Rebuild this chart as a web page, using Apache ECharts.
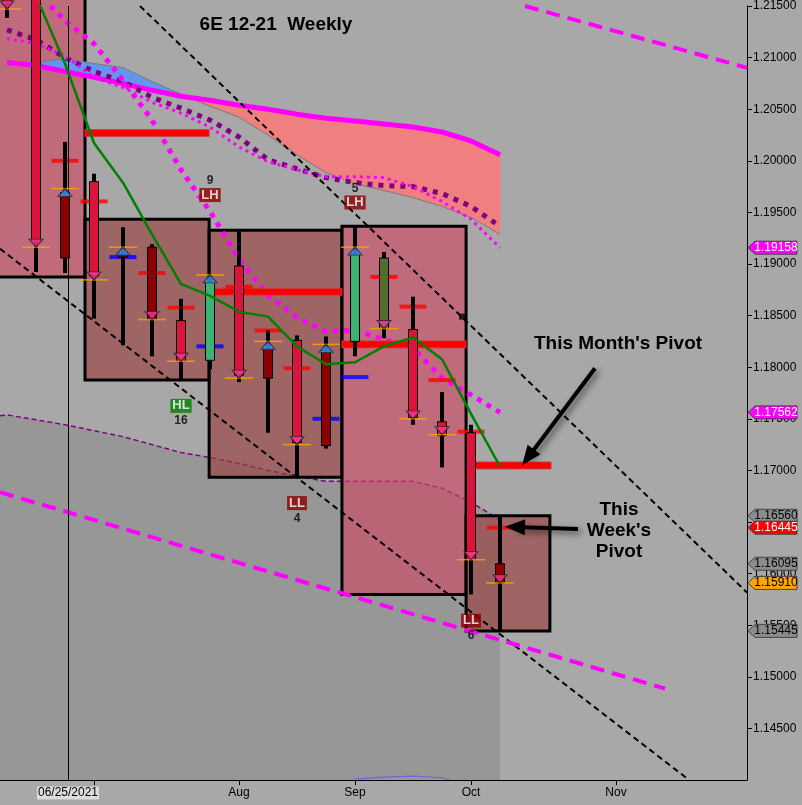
<!DOCTYPE html>
<html>
<head>
<meta charset="utf-8">
<script src="https://cdn.jsdelivr.net/npm/echarts@6.0.0/dist/echarts.min.js"></script>
<style>
html,body{margin:0;padding:0;background:#A8A8A8;}
#chart{width:802px;height:805px;}
</style>
</head>
<body>
<div id="chart"></div>
<script>
// ================= DATA =================
const weekIdx     = [0,1,2,3,4,5,6,7,8,9,10,11,12,13,14,15,16,17];
const candleOpen  = [1.22300,1.22300,1.19692,1.19798,1.19106,1.19163,1.18452,1.18067,1.18981,1.18183,1.18260,1.18163,1.18250,1.19058,1.18365,1.17471,1.17365,1.16095];
const candleHigh  = [1.22500,1.22500,1.20183,1.19875,1.19356,1.19192,1.18663,1.18894,1.19317,1.18356,1.18308,1.18298,1.19365,1.19115,1.18683,1.17760,1.17442,1.16560];
const candleLow   = [1.21385,1.18923,1.18913,1.18471,1.18212,1.18106,1.17865,1.17981,1.17856,1.17365,1.16942,1.17212,1.18106,1.18280,1.17442,1.17029,1.15798,1.15445];
const candleClose = [1.21519,1.19221,1.19058,1.18885,1.19067,1.18462,1.18058,1.18827,1.17923,1.17894,1.17270,1.17240,1.19096,1.18375,1.17510,1.17337,1.16135,1.15910];
const candleKind  = ['bear','bear','bearWeak','bear','bearWeak','bearWeak','bear','bull','bear','bearWeak','bear','bearWeak','bull','bullWeak','bear','bear','bear','bearWeak'];

const signalLevel = [1.21471,1.19163,1.19731,1.18846,1.19163,1.18462,1.18058,1.18894,1.17894,1.18250,1.17250,1.18221,1.19163,1.18375,1.17500,1.17346,1.16135,1.15910];
const signalDir   = ['dn','dn','up','dn','up','dn','dn','up','dn','up','dn','up','up','dn','dn','dn','dn','dn'];

const pivotWeek  = [2,3,4,5,6,7,8,9,10,11,12,13,14,15,16,17];
const pivotValue = [1.20000,1.19606,1.19067,1.18913,1.18577,1.18202,1.18779,1.18356,1.17990,1.17500,1.17904,1.18875,1.18587,1.17875,1.17375,1.16445];
const pivotType  = ['res','res','sup','res','res','sup','res','res','res','sup','sup','res','res','res','res','res'];

const monthStart = [-1.00, 2.69, 6.97, 11.55, 15.83];
const monthEnd   = [ 2.69, 6.97, 11.55, 15.83, 18.72];
const monthHigh  = [1.23000,1.19433,1.19327,1.19365,1.16560];
const monthLow   = [1.18875,1.17875,1.16933,1.15798,1.15445];
const monthTone  = ['light','dark','dark','light','dark'];

const mPivotStart = [2.69, 6.97, 11.55, 16.14];
const mPivotEnd   = [6.97, 11.55, 15.83, 18.76];
const mPivotValue = [1.20269,1.18731,1.18221,1.17048];

const maLine      = [null,1.21596,1.20942,1.20173,1.19788,1.19288,1.18808,1.18692,1.18538,1.18490,1.18202,1.18029,1.18048,1.18202,1.18288,1.18077,1.17548,1.17038];
const bandMid     = [1.20952,1.20923,1.20865,1.20808,1.20750,1.20683,1.20625,1.20587,1.20538,1.20500,1.20452,1.20413,1.20385,1.20356,1.20327,1.20279,1.20192,1.20058];
const cloudEdge   = [null,1.20950,1.20990,1.20942,1.20904,1.20769,1.20644,1.20529,1.20423,1.20250,1.20058,1.19885,1.19779,1.19712,1.19644,1.19558,1.19452,1.19288];
const purpleDot   = [1.21269,1.21173,1.21000,1.20865,1.20769,1.20615,1.20510,1.20394,1.20231,1.20010,1.19923,1.19837,1.19788,1.19760,1.19750,1.19683,1.19558,1.19365];
const magentaFine = [1.21183,1.21135,1.21019,1.20808,1.20712,1.20567,1.20462,1.20327,1.20135,1.19990,1.19913,1.19846,1.19846,1.19837,1.19750,1.19606,1.19433,1.19158];
const magentaBold = [1.21981,1.21644,1.21356,1.21135,1.20779,1.20394,1.19913,1.19510,1.19048,1.18692,1.18481,1.18346,1.18356,1.18269,1.18183,1.17894,1.17731,1.17562];
const lowerBand   = [1.17538,1.17490,1.17442,1.17385,1.17327,1.17250,1.17173,1.17125,1.17067,1.17000,1.16942,1.16894,1.16894,1.16894,1.16894,1.16827,1.16692,1.16519];
const lowerBandStart = [-0.2414, 1.17529];
const bottomCurve = [[12,1.14010],[13,1.14028],[14,1.14038],[15,1.14022],[15.3,1.14000]];

const trendBlackUpper   = [[4.586,1.21500],[25.517,1.15817]];
const trendBlackLower   = [[-0.2414,1.19148],[23.52,1.14000]];
const trendMagentaUpper = [[17.862,1.21500],[25.517,1.20901]];
const trendMagentaLower = [[-0.2414,1.16788],[22.69,1.14885]];
const anchorMark = [[15.69,1.18490]];

const swingIdx        = [7,12,6,10,16];
const swingType       = ['LH','LH','HL','LL','LL'];
const swingCount      = ['9','5','16','4','6'];
const swingBoxLevel   = [1.19668,1.19596,1.17625,1.16683,1.15544];
const swingCountLevel = [1.19808,1.19731,1.17481,1.16529,1.15394];

const tagValues = [1.19158,1.17562,1.16560,1.16445,1.16095,1.15910,1.15445];
const tagKind   = ['band','band','high','pivot','open','last','low'];

const xTickIdx   = [3,8,12,16,21];
const xLabelIdx  = [8,12,16,21];
const xLabelText = ['Aug','Sep','Oct','Nov'];
const cursorIdx  = 2.103;
const cursorText = '06/25/2021';

const monthArrow = [[20.276,1.17990],[17.966,1.17125]];
const weekArrow  = [[19.690,1.16433],[17.517,1.16452]];

const xMin = -0.2414, xMax = 25.517;

// ================= STYLE =================
const FONT = '"Liberation Sans", Arial, sans-serif';
const bodyFill = {bear:'#DC143C', bearWeak:'#8B0000', bull:'#3CB371', bullWeak:'#556B2F'};
const boxFill = {light:'rgba(205,73,99,0.65)', dark:'rgba(153,65,65,0.65)'};
const pivotFill = {res:'#FF0000', sup:'#0000FF'};
const tagStyle = {
  band:{fill:'#FF00FF', text:'#FFFFFF'}, pivot:{fill:'#FF0000', text:'#FFFFFF'},
  high:{fill:'#8C8C8C', text:'#000'}, open:{fill:'#8C8C8C', text:'#000'},
  low:{fill:'#8C8C8C', text:'#000'}, last:{fill:'#FFA500', text:'#000'}
};

const pairs = arr => weekIdx.map((w,i)=>[w,arr[i]]).filter(p=>p[1]!=null);

function candleItem(params, api){
  const x=api.value(0), o=api.value(1), c=api.value(2), l=api.value(3), h=api.value(4);
  const pH=api.coord([x,h]), pL=api.coord([x,l]), pO=api.coord([x,o]), pC=api.coord([x,c]);
  const cx=Math.round(pH[0]);
  const top=Math.min(pO[1],pC[1]), bot=Math.max(pO[1],pC[1]);
  return {type:'group', children:[
    {type:'rect', shape:{x:cx-2, y:pH[1], width:4, height:pL[1]-pH[1]}, style:{fill:'#000'}},
    {type:'rect', shape:{x:cx-4.5, y:top, width:9, height:Math.max(bot-top,2)},
     style:{fill:bodyFill[candleKind[params.dataIndex]], stroke:'#000', lineWidth:1}}
  ]};
}
function boxItem(params, api){
  const p0=api.coord([api.value(0), api.value(2)]), p1=api.coord([api.value(1), api.value(3)]);
  return {type:'rect', shape:{x:p0[0], y:p0[1], width:p1[0]-p0[0], height:p1[1]-p0[1]},
    style:{fill:boxFill[monthTone[params.dataIndex]], stroke:'#000', lineWidth:3}};
}
function mPivotItem(params, api){
  const p0=api.coord([api.value(0), api.value(2)]), p1=api.coord([api.value(1), api.value(2)]);
  return {type:'rect', shape:{x:p0[0], y:p0[1]-3.5, width:p1[0]-p0[0], height:7},
    style:{fill:'#FF0000', stroke:'rgba(190,70,70,0.9)', lineWidth:1}};
}
function cloudItem(params, api){
  const kids=[];
  const poly=(pts,up)=>({type:'polygon', shape:{points:pts.map(p=>api.coord(p))},
    style:{fill: up?'#6496EB':'#F08080', stroke: up?'#6496EB':'#F08080', lineWidth:0.6}});
  for(let i=0;i<weekIdx.length-1;i++){
    const g0=cloudEdge[i], g1=cloudEdge[i+1], m0=bandMid[i], m1=bandMid[i+1];
    if(g0==null||g1==null) continue;
    const x0=weekIdx[i], x1=weekIdx[i+1], d0=g0-m0, d1=g1-m1;
    if(d0*d1>=0){
      kids.push(poly([[x0,g0],[x1,g1],[x1,m1],[x0,m0]], (d0+d1)>=0));
    } else {
      const t=d0/(d0-d1), xc=x0+t*(x1-x0), yc=m0+t*(m1-m0);
      kids.push(poly([[x0,g0],[xc,yc],[x0,m0]], d0>0));
      kids.push(poly([[xc,yc],[x1,g1],[x1,m1]], d1>0));
    }
  }
  return {type:'group', children:kids};
}

const lineS = (data, color, width, type, z, extra) => Object.assign({
  type:'line', data, symbol:'none', silent:true, animation:false, z,
  lineStyle:{color, width, type, cap:'butt'}
}, extra||{});

const chart = echarts.init(document.getElementById('chart'), null, {width:802, height:805});

const option = {
  animation:false,
  backgroundColor:'#A8A8A8',
  textStyle:{fontFamily:FONT},
  grid:{left:0, right:55, top:0, bottom:25},
  xAxis:{type:'value', min:xMin, max:xMax, z:20,
    axisLine:{show:true, onZero:false, lineStyle:{color:'#000', width:1}},
    axisTick:{show:true, customValues:xTickIdx, length:5, lineStyle:{color:'#000'}},
    axisLabel:{show:true, customValues:xLabelIdx, color:'#000', fontSize:12, fontFamily:FONT, margin:7,
      formatter:v=>{const k=xLabelIdx.indexOf(Math.round(v)); return k>=0?xLabelText[k]:'';}},
    splitLine:{show:false}},
  yAxis:{type:'value', position:'right', min:1.14, max:1.215, interval:0.005, z:20,
    axisLine:{show:true, onZero:false, lineStyle:{color:'#000', width:1}},
    axisTick:{show:true, length:5, lineStyle:{color:'#000'}},
    axisLabel:{color:'#000', fontSize:12, fontFamily:FONT, margin:6, showMinLabel:false,
      formatter:v=>v.toFixed(5)},
    splitLine:{show:false}},
  series:[
    lineS([lowerBandStart].concat(pairs(lowerBand)), '#800080', 1.5, [5,3], 1,
      {areaStyle:{color:'#979797', opacity:1, origin:'start'}}),
    lineS(bottomCurve, '#6A6AD8', 1.2, 'solid', 1),
    {type:'custom', renderItem:boxItem, silent:true, z:2,
      data:monthStart.map((s,i)=>[s, monthEnd[i], monthHigh[i], monthLow[i]])},
    {type:'custom', renderItem:cloudItem, silent:true, z:3, data:[[0,1.2]]},
    lineS(pairs(cloudEdge), '#7A7A7A', 1, 'solid', 3),
    lineS(pairs(bandMid), '#FF00FF', 5, 'solid', 3),
    lineS(pairs(purpleDot), '#800080', 5, [5,6], 3),
    lineS(pairs(magentaFine), '#FF00FF', 3, [3,4], 3),
    lineS(pairs(magentaBold), '#FF00FF', 5, [5,6], 3),
    lineS(trendBlackUpper, '#000', 2, [6,4], 3, {markLine:{silent:true, symbol:'none', animation:false,
      label:{show:false}, lineStyle:{color:'#000', width:1, type:'solid'}, data:[{xAxis:cursorIdx}]}}),
    lineS(trendBlackLower, '#000', 2, [6,4], 3),
    lineS(trendMagentaUpper, '#FF00FF', 4, [14,8], 3),
    lineS(trendMagentaLower, '#FF00FF', 4, [14,8], 3),
    {type:'scatter', data:anchorMark, symbol:'rect', symbolSize:6, itemStyle:{color:'#000'}, silent:true, z:3},
    {type:'custom', renderItem:mPivotItem, silent:true, z:4,
      data:mPivotStart.map((s,i)=>[s, mPivotEnd[i], mPivotValue[i]])},
    {type:'scatter', silent:true, symbol:'rect', symbolSize:[27,4], z:4,
      data:pivotWeek.map((w,i)=>({value:[w,pivotValue[i]], itemStyle:{color:pivotFill[pivotType[i]]}}))},
    {type:'custom', renderItem:candleItem, silent:true, z:5,
      data:weekIdx.map((w,i)=>[w, candleOpen[i], candleClose[i], candleLow[i], candleHigh[i]])},
    {type:'scatter', silent:true, symbol:'rect', symbolSize:[28,1.5], itemStyle:{color:'#FFA500'}, z:6,
      data:pairs(signalLevel)},
    {type:'scatter', silent:true, symbol:'triangle', symbolSize:[14,8], z:6,
      itemStyle:{borderColor:'#222', borderWidth:1},
      data:weekIdx.map((w,i)=>({value:[w,signalLevel[i]],
        symbolRotate: signalDir[i]==='dn'?180:0,
        symbolOffset:[0, signalDir[i]==='dn'?-4:4],
        itemStyle:{color: signalDir[i]==='dn'?'#FF3399':'#3399FF'}}))},
    lineS(pairs(maLine), '#008000', 2.5, 'solid', 6),
    {type:'scatter', silent:true, symbolSize:0, z:7,
      label:{show:true, position:'inside', color:'#fff', fontWeight:'bold', fontSize:13, fontFamily:FONT, padding:[1,2,0,2]},
      data:swingIdx.map((w,i)=>({value:[w,swingBoxLevel[i]],
        label:{formatter:swingType[i], backgroundColor: swingType[i]==='HL'?'#008000':'#8B0000'}}))},
    {type:'scatter', silent:true, symbolSize:0, z:7,
      label:{show:true, position:'inside', color:'#000', textBorderWidth:0, fontWeight:'bold', fontSize:12, fontFamily:FONT},
      data:swingIdx.map((w,i)=>({value:[w,swingCountLevel[i]], label:{formatter:swingCount[i], color:'#000'}}))},
    {type:'line', data:[], silent:true, z:8,
      markLine:{silent:true, animation:false, symbol:['none','triangle'], symbolSize:[16,20], label:{show:false},
        lineStyle:{color:'#000', width:4, type:'solid', shadowBlur:6, shadowColor:'rgba(0,0,0,0.55)', shadowOffsetX:3, shadowOffsetY:3},
        data:[[{coord:monthArrow[0]},{coord:monthArrow[1]}],[{coord:weekArrow[0]},{coord:weekArrow[1]}]]}}
  ]
};
chart.setOption(option);

const gx = v => chart.convertToPixel({xAxisIndex:0}, v);
const gy = v => chart.convertToPixel({yAxisIndex:0}, v);
const axX = gx(xMax);
const graphics = [];
tagValues.forEach((v,i)=>{
  const y = gy(v), st = tagStyle[tagKind[i]];
  graphics.push({type:'polygon', z:100, shape:{points:[[axX+1,y],[axX+8,y-6.5],[axX+50,y-6.5],[axX+50,y+6.5],[axX+8,y+6.5]]},
    style:{fill:st.fill, stroke:'#444', lineWidth:1}});
  graphics.push({type:'text', z:101, x:axX+29, y:y,
    style:{text:v.toFixed(5), fill:st.text, font:'12px '+FONT, textAlign:'center', align:'center', textVerticalAlign:'middle', verticalAlign:'middle'}});
});
const cx = gx(cursorIdx);
graphics.push({type:'text', z:100, x:cx, y:793,
  style:{text:cursorText, fill:'#000', font:'12px '+FONT, backgroundColor:'#DCDCDC', padding:[1,1,0,1],
    textAlign:'center', align:'center', textVerticalAlign:'middle', verticalAlign:'middle'}});
const txt = (t, x, y) => ({type:'text', z:100, x, y,
  style:{text:t, fill:'#000', font:'bold 19px '+FONT, textAlign:'center', align:'center', textVerticalAlign:'middle', verticalAlign:'middle'}});
graphics.push(txt('6E 12-21  Weekly', 276, 25));
graphics.push(txt("This Month's Pivot", 618, 344));
graphics.push(txt('This', 619, 510));
graphics.push(txt("Week's", 619, 531));
graphics.push(txt('Pivot', 619, 552));
chart.setOption({graphic:{elements:graphics}});
</script>
</body>
</html>
